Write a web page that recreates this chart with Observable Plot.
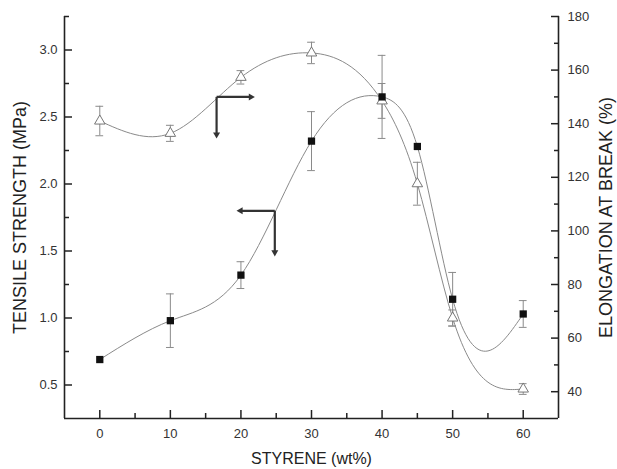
<!DOCTYPE html>
<html><head><meta charset="utf-8">
<script src="https://cdn.jsdelivr.net/npm/d3@7"></script>
<script src="https://cdn.jsdelivr.net/npm/@observablehq/plot@0.6"></script>
<style>
html,body{margin:0;padding:0;background:#fff;}
#chart svg{display:block;}
</style></head><body><div id="chart"></div>
<script>
// ---- data ----
const styrene    = [0, 10, 20, 30, 40, 45, 50, 60];
const tensile    = [0.69, 0.98, 1.32, 2.32, 2.65, 2.28, 1.14, 1.03];
const tensileErr = [0, 0.20, 0.10, 0.22, 0.31, 0, 0.20, 0.10];
const elongation = [141, 136.4, 157.3, 166.4, 148.5, 117.6, 67.5, 41];
const elongErr   = [5.5, 3, 2.5, 4, 6.5, 8, 3, 2];

const xTicks      = [0, 10, 20, 30, 40, 50, 60];
const xMinorTicks = [5, 15, 25, 35, 45, 55];
const leftTicks   = [0.5, 1.0, 1.5, 2.0, 2.5, 3.0];
const leftMinor   = [0.75, 1.25, 1.75, 2.25, 2.75, 3.25];
const rightTicks  = [40, 60, 80, 100, 120, 140, 160, 180];
const rightMinor  = [50, 70, 90, 110, 130, 150, 170];

const xTitle     = "STYRENE (wt%)";
const leftTitle  = "TENSILE STRENGTH (MPa)";
const rightTitle = "ELONGATION AT BREAK (%)";

// annotation arrows (data units of x and left y)
const arrowStartX = [16.55, 16.55, 24.8, 24.8];
const arrowStartY = [2.65, 2.65, 1.80, 1.80];
const arrowEndX   = [21.4, 16.55, 19.95, 24.8];
const arrowEndY   = [2.65, 2.37, 1.80, 1.49];

// ---- custom curve: natural cubic spline of y as a function of x ----
function splineCurve(context) {
  let xs, ys;
  return {
    areaStart() {}, areaEnd() {},
    lineStart() { xs = []; ys = []; },
    point(x, y) { xs.push(+x); ys.push(+y); },
    lineEnd() {
      const n = xs.length;
      if (!n) return;
      context.moveTo(xs[0], ys[0]);
      if (n < 3) { for (let i = 1; i < n; i++) context.lineTo(xs[i], ys[i]); return; }
      const h = [];
      for (let i = 0; i < n - 1; i++) h.push(xs[i + 1] - xs[i]);
      const m = n - 2, a = [], b = [], c = [], r = [];
      for (let k = 0; k < m; k++) {
        const i = k + 1;
        a[k] = h[i - 1]; b[k] = 2 * (h[i - 1] + h[i]); c[k] = h[i];
        r[k] = 6 * ((ys[i + 1] - ys[i]) / h[i] - (ys[i] - ys[i - 1]) / h[i - 1]);
      }
      for (let k = 1; k < m; k++) { const w = a[k] / b[k - 1]; b[k] -= w * c[k - 1]; r[k] -= w * r[k - 1]; }
      const M = new Array(n).fill(0);
      M[m] = r[m - 1] / b[m - 1];
      for (let k = m - 2; k >= 0; k--) M[k + 1] = (r[k] - c[k] * M[k + 2]) / b[k];
      for (let i = 0; i < n - 1; i++) {
        const hi = h[i], s = (ys[i + 1] - ys[i]) / hi;
        const d0 = s - hi * (2 * M[i] + M[i + 1]) / 6;
        const d1 = s + hi * (M[i] + 2 * M[i + 1]) / 6;
        context.bezierCurveTo(xs[i] + hi / 3, ys[i] + d0 * hi / 3, xs[i + 1] - hi / 3, ys[i + 1] - d1 * hi / 3, xs[i + 1], ys[i + 1]);
      }
    }
  };
}

// ---- build ----
const eToY = d3.scaleLinear([30, 180], [0.25, 3.25]);
const rows = styrene.map((x, i) => ({
  x, t: tensile[i], tLo: tensile[i] - tensileErr[i], tHi: tensile[i] + tensileErr[i], te: tensileErr[i],
  e: eToY(elongation[i]), eLo: eToY(elongation[i] - elongErr[i]), eHi: eToY(elongation[i] + elongErr[i])
}));
const tRows = rows.filter(d => d.te > 0);
const arrows = arrowStartX.map((x1, i) => ({x1, y1: arrowStartY[i], x2: arrowEndX[i], y2: arrowEndY[i],
  dir: arrowEndX[i] > x1 ? 90 : arrowEndX[i] < x1 ? -90 : 180}));

const font = "'Liberation Sans', Arial, sans-serif";
const axisColor = "#222";
const gray = "#8a8a8a";

const plot = Plot.plot({
  width: 617, height: 469,
  marginLeft: 64, marginRight: 59, marginTop: 16, marginBottom: 51,
  style: {fontFamily: font, fontSize: "13px", color: "#333", background: "#fff"},
  x: {domain: [-5, 65]},
  y: {domain: [0.25, 3.25]},
  marks: [
    // curves
    Plot.line(rows, {x: "x", y: "e", curve: splineCurve, stroke: gray, strokeWidth: 1}),
    Plot.line(rows, {x: "x", y: "t", curve: splineCurve, stroke: gray, strokeWidth: 1}),
    // error bars elongation
    Plot.ruleX(rows, {x: "x", y1: "eLo", y2: "eHi", stroke: gray, strokeWidth: 1}),
    Plot.ruleY(rows, {y: "eLo", x1: d => d.x - 0.55, x2: d => d.x + 0.55, stroke: gray}),
    Plot.ruleY(rows, {y: "eHi", x1: d => d.x - 0.55, x2: d => d.x + 0.55, stroke: gray}),
    // error bars tensile
    Plot.ruleX(tRows, {x: "x", y1: "tLo", y2: "tHi", stroke: gray, strokeWidth: 1}),
    Plot.ruleY(tRows, {y: "tLo", x1: d => d.x - 0.55, x2: d => d.x + 0.55, stroke: gray}),
    Plot.ruleY(tRows, {y: "tHi", x1: d => d.x - 0.55, x2: d => d.x + 0.55, stroke: gray}),
    // markers
    Plot.dot(rows, {x: "x", y: "e", symbol: "triangle", r: 3.9, stroke: "#777", fill: "white", strokeWidth: 1}),
    Plot.dot(rows, {x: "x", y: "t", symbol: "square", r: 4.1, fill: "#111", stroke: "none"}),
    // annotation arrows
    Plot.link(arrows, {x1: "x1", y1: "y1", x2: "x2", y2: "y2", stroke: "#333", strokeWidth: 2.2}),
    Plot.dot(arrows, {x: "x2", y: "y2", symbol: "triangle", rotate: "dir", r: 2.6, fill: "#333", stroke: "none"}),
    // frame lines
    Plot.ruleX([-5, 65], {stroke: axisColor, strokeWidth: 1.6}),
    Plot.ruleY([0.25], {stroke: axisColor, strokeWidth: 1.6}),
    // bottom axis
    Plot.axisX({anchor: "bottom", ticks: xTicks, tickSize: -8, tickPadding: 18, strokeWidth: 1.5, stroke: axisColor, tickFormat: d3.format("d"), label: null}),
    Plot.axisX({anchor: "bottom", ticks: xMinorTicks, tickSize: -5, strokeWidth: 1.5, stroke: axisColor, tickFormat: () => "", label: null}),
    // left axis
    Plot.axisY({anchor: "left", ticks: leftTicks, tickSize: -8, tickPadding: 15, strokeWidth: 1.5, stroke: axisColor, tickFormat: d3.format(".1f"), label: null}),
    Plot.axisY({anchor: "left", ticks: leftMinor, tickSize: -5, strokeWidth: 1.5, stroke: axisColor, tickFormat: () => "", label: null}),
    // right axis (elongation)
    Plot.axisY({anchor: "right", ticks: rightTicks.map(eToY), tickSize: -8, tickPadding: 17, strokeWidth: 1.5, stroke: axisColor, tickFormat: v => d3.format("d")(Math.round(eToY.invert(v))), label: null}),
    Plot.axisY({anchor: "right", ticks: rightMinor.map(eToY), tickSize: -5, strokeWidth: 1.5, stroke: axisColor, tickFormat: () => "", label: null}),
    // axis titles
    Plot.text([xTitle], {text: d => d, frameAnchor: "bottom", textAnchor: "middle", lineAnchor: "middle", dy: 40, fontSize: 16, fill: "#222"}),
    Plot.text([leftTitle], {text: d => d, frameAnchor: "left", textAnchor: "middle", lineAnchor: "middle", rotate: -90, dx: -44, fontSize: 18, fill: "#222"}),
    Plot.text([rightTitle], {text: d => d, frameAnchor: "right", textAnchor: "middle", lineAnchor: "middle", rotate: -90, dx: 48, fontSize: 18, fill: "#222"})
  ]
});
document.getElementById("chart").appendChild(plot);
</script>
</body></html>
